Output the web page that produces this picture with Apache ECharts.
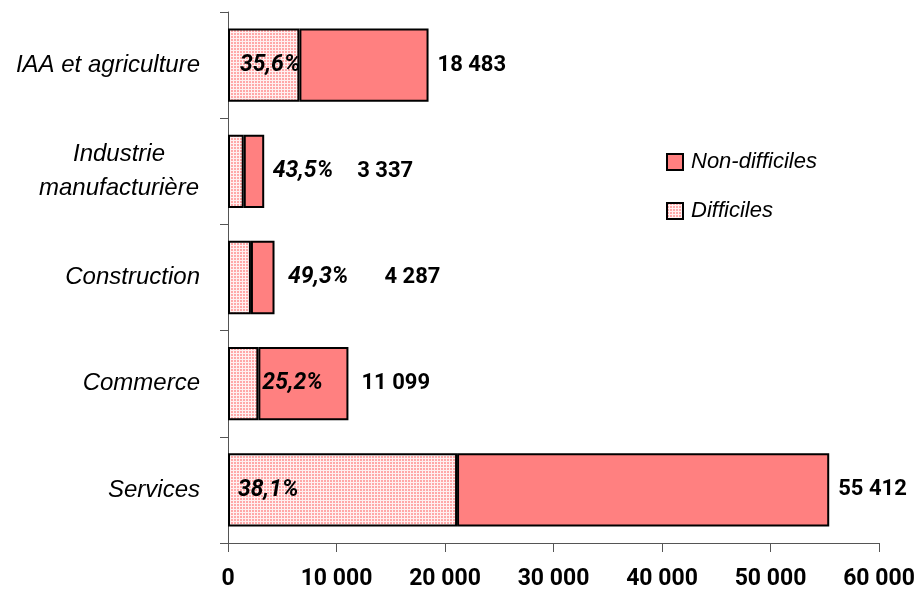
<!DOCTYPE html>
<html><head><meta charset="utf-8">
<script src="https://cdn.jsdelivr.net/npm/echarts@6/dist/echarts.min.js"></script>
<style>html,body{margin:0;padding:0;background:#fff}#c{width:916px;height:594px}</style>
</head><body><div id="c"></div>
<script>
var categories = ['IAA et agriculture', 'Industrie\nmanufacturière', 'Construction', 'Commerce', 'Services'];
var totals = [18483, 3337, 4287, 11099, 55412];
var sharePct = [35.6, 43.5, 49.3, 25.2, 38.1];
var difficiles = [6580, 1452, 2113, 2797, 21112];
var nonDifficiles = [11903, 1885, 2174, 8302, 34300];
var xTicks = [0, 10000, 20000, 30000, 40000, 50000, 60000];

var NARROW = 'Roboto, "Liberation Sans", sans-serif';
var SANS = '"Liberation Sans", Arial, sans-serif';

function fmtNum(v) { return String(v).replace(/\B(?=(\d{3})+(?!\d))/g, ' '); }
function fmtPct(v) { return v.toFixed(1).replace('.', ',') + '%'; }

var cv = document.createElement('canvas');
cv.width = 3; cv.height = 3;
var cx = cv.getContext('2d');
cx.fillStyle = '#fff0f0'; cx.fillRect(0, 0, 3, 3);
cx.fillStyle = '#ffa8a8'; cx.fillRect(0, 0, 2, 2);
var pattern = { image: cv, repeat: 'repeat' };

// label placement per category (styles only)
var pctPos = [
  { position: 'insideLeft', distance: 12 },
  { position: 'right', distance: 29 },
  { position: 'right', distance: 37 },
  { position: 'right', distance: 4 },
  { position: 'insideLeft', distance: 10 }
];
var totDist = [9, 93, 110, 13, 9];

var pctLabelStyle = { fontFamily: NARROW, fontSize: 23, fontWeight: 'bold', fontStyle: 'italic', color: '#000' };
var totLabelStyle = { fontFamily: NARROW, fontSize: 22, fontWeight: 'bold', color: '#000' };

var diffData = difficiles.map(function (v, i) {
  return { value: v, label: Object.assign({ show: true, formatter: fmtPct(sharePct[i]) }, pctLabelStyle, pctPos[i]) };
});
var nonData = nonDifficiles.map(function (v, i) {
  return { value: v, label: Object.assign({ show: true, position: 'right', distance: totDist[i], formatter: fmtNum(totals[i]) }, totLabelStyle) };
});

var chart = echarts.init(document.getElementById('c'), null, { renderer: 'canvas' });
chart.setOption({
  animation: false,
  backgroundColor: '#fff',
  grid: { left: 228, right: 37, top: 12, bottom: 51, containLabel: false, outerBoundsMode: 'none' },
  legend: {
    orient: 'vertical', left: 661, top: 146,
    data: ['Non-difficiles', 'Difficiles'],
    itemWidth: 16, itemHeight: 16, itemGap: 27,
    icon: 'rect',
    textStyle: { fontFamily: SANS, fontSize: 22, fontStyle: 'italic', color: '#000', padding: [0, 0, 0, 3] }
  },
  xAxis: {
    type: 'value', min: 0, max: 60000, interval: 10000,
    axisLine: { show: true, lineStyle: { color: '#555', width: 1 } },
    axisTick: { show: true, length: 9, lineStyle: { color: '#555' } },
    splitLine: { show: false },
    axisLabel: {
      margin: 25, fontFamily: NARROW, fontSize: 23, fontWeight: 'bold', color: '#000',
      formatter: function (v) { return xTicks.indexOf(v) >= 0 ? fmtNum(v) : ''; }
    }
  },
  yAxis: {
    type: 'category', inverse: true, data: categories,
    axisLine: { show: true, lineStyle: { color: '#555', width: 1 } },
    axisTick: { show: true, length: 8, lineStyle: { color: '#555' } },
    axisLabel: {
      margin: 28, fontFamily: SANS, fontSize: 24, fontStyle: 'italic', color: '#000',
      lineHeight: 34,
      formatter: function (v) { return v.indexOf('\n') >= 0 ? '{c|' + v.split('\n').join('}\n{c|') + '}' : v; },
      rich: { c: { width: 162, align: 'center', fontFamily: SANS, fontSize: 24, fontStyle: 'italic', color: '#000', lineHeight: 34 } }
    }
  },
  series: [
    {
      name: 'Difficiles', type: 'bar', stack: 'tot', barWidth: '69%',
      itemStyle: { color: pattern, borderColor: '#000', borderWidth: 2 },
      data: diffData, z: 2
    },
    {
      name: 'Non-difficiles', type: 'bar', stack: 'tot', barWidth: '69%',
      itemStyle: { color: '#ff8080', borderColor: '#000', borderWidth: 2 },
      data: nonData, z: 2
    }
  ]
});
</script></body></html>
